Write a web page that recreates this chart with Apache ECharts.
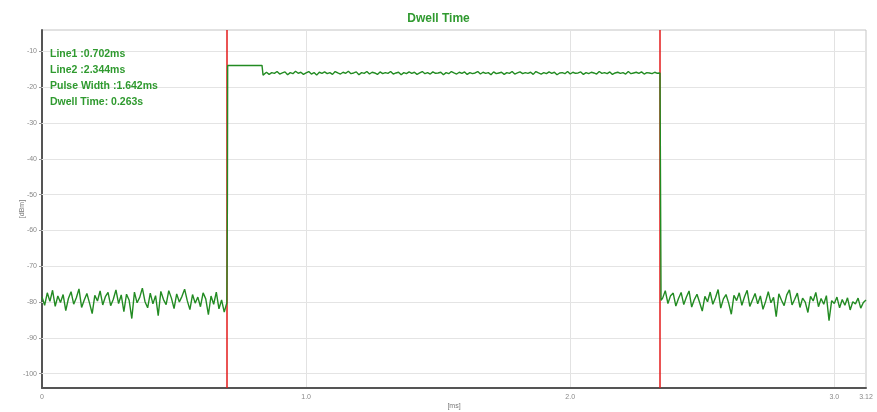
<!DOCTYPE html>
<html>
<head>
<meta charset="utf-8">
<script src="https://cdn.jsdelivr.net/npm/echarts@6/dist/echarts.min.js"></script>
<style>html,body{margin:0;padding:0;background:#fff}#c{width:877px;height:412px}</style>
</head>
<body>
<div id="c"></div>
<script>
// ---- data ----
const chartTitle = 'Dwell Time';
const infoLines = ['Line1 :0.702ms', 'Line2 :2.344ms', 'Pulse Width :1.642ms', 'Dwell Time: 0.263s'];
const markerTimes = [0.702, 2.344];
const yTicks = [-10, -20, -30, -40, -50, -60, -70, -80, -90, -100];
const xTicks = [0, 1, 2, 3, 3.12];
const xTickLabels = ['0', '1.0', '2.0', '3.0', '3.12'];
const sampleStep = 0.01;

// noise floor before pulse (t = 0 .. 0.70)
const seg1Start = 0;
const seg1 = [-78.6,-80.9,-77.4,-79.8,-76.7,-81.2,-78.3,-80.1,-77.9,-82.4,
-79.0,-77.1,-80.6,-78.8,-76.3,-81.5,-79.4,-77.6,-80.3,-83.2,
-78.1,-79.7,-76.9,-80.8,-78.5,-77.3,-81.0,-79.2,-76.6,-80.4,
-78.0,-82.7,-77.8,-79.5,-84.6,-77.2,-80.2,-78.7,-76.1,-79.9,
-81.6,-77.5,-80.5,-78.2,-83.8,-77.0,-79.3,-80.7,-76.8,-78.9,
-81.8,-77.7,-80.0,-78.4,-76.4,-79.6,-82.1,-77.9,-80.3,-78.6,
-81.3,-77.4,-79.1,-83.5,-78.3,-80.6,-77.2,-81.9,-79.4,-82.8,-80.2];

// rising edge and initial step
const riseTimes = [0.702, 0.702, 0.703, 0.833, 0.837];
const riseValues = [-80.5, -52.0, -13.9, -13.9, -16.6];

// pulse plateau (t = 0.84 .. 2.34)
const seg2Start = 0.84;
const seg2 = [-16.2,-15.8,-16.4,-15.9,-16.1,-15.6,-16.3,-16.0,-15.7,-16.5,
-15.9,-16.2,-15.5,-16.1,-15.8,-16.4,-16.0,-15.6,-16.3,-15.9,
-16.6,-15.8,-16.1,-15.7,-16.2,-15.9,-16.4,-15.6,-16.0,-16.3,
-15.8,-16.1,-15.5,-16.2,-16.0,-15.7,-16.5,-15.9,-16.1,-15.6,
-16.3,-15.8,-16.0,-16.4,-15.7,-16.2,-15.9,-16.1,-15.6,-16.3,
-16.0,-15.8,-16.5,-15.9,-16.2,-15.7,-16.1,-15.8,-16.4,-16.0,
-15.6,-16.2,-15.9,-16.3,-15.7,-16.1,-16.0,-15.8,-16.5,-15.9,
-16.2,-15.6,-16.0,-16.3,-15.8,-16.1,-15.7,-16.4,-15.9,-16.2,
-16.0,-15.6,-16.3,-15.8,-16.1,-15.9,-16.5,-15.7,-16.2,-16.0,
-15.8,-16.4,-15.9,-16.1,-15.6,-16.3,-16.0,-15.7,-16.2,-15.9,
-16.1,-15.8,-16.4,-15.6,-16.0,-16.3,-15.9,-16.2,-15.7,-16.1,
-15.8,-16.5,-16.0,-15.9,-16.2,-15.6,-16.3,-15.8,-16.1,-16.0,
-15.7,-16.4,-15.9,-16.2,-15.8,-16.0,-16.3,-15.6,-16.1,-15.9,
-16.2,-15.7,-16.4,-16.0,-15.8,-16.1,-15.9,-16.3,-15.6,-16.2,
-16.0,-15.8,-16.1,-15.7,-16.3,-15.9,-16.0,-16.2,-15.8,-16.1,-16.0];

// falling edge
const fallTimes = [2.344, 2.344];
const fallValues = [-16.0, -79.5];

// noise floor after pulse (t = 2.35 .. 3.12)
const seg3Start = 2.35;
const seg3 = [-78.9,-76.8,-80.4,-78.2,-77.5,-81.1,-79.0,-77.3,-80.7,-78.6,
-76.9,-81.4,-79.3,-77.8,-80.1,-82.5,-78.4,-79.9,-77.2,-80.6,
-78.8,-76.5,-81.7,-79.1,-77.9,-80.3,-83.4,-78.1,-79.6,-77.4,
-80.9,-78.5,-76.7,-81.2,-79.4,-77.6,-80.5,-78.3,-82.0,-79.8,
-77.1,-80.2,-78.7,-84.1,-77.7,-79.5,-81.0,-78.0,-76.6,-80.8,
-79.2,-77.5,-81.5,-78.9,-80.0,-82.9,-78.4,-79.7,-77.3,-81.3,
-79.0,-80.6,-78.2,-85.2,-79.6,-80.4,-78.6,-81.6,-79.3,-80.9,
-78.8,-82.2,-79.9,-80.5,-78.9,-81.7,-80.1,-79.4];

// ---- build ----
function sampled(start, vals) { return vals.map((v, i) => [+(start + i * sampleStep).toFixed(4), v]); }
function paired(ts, vs) { return ts.map((t, i) => [t, vs[i]]); }
const trace = [].concat(
  sampled(seg1Start, seg1),
  paired(riseTimes, riseValues),
  sampled(seg2Start, seg2),
  paired(fallTimes, fallValues),
  sampled(seg3Start, seg3)
);

const green = '#2f9a2f';
const chart = echarts.init(document.getElementById('c'));
chart.setOption({
  animation: false,
  backgroundColor: '#fff',
  title: {
    text: chartTitle, left: 'center', top: 8,
    textStyle: { color: green, fontSize: 12, fontWeight: 'bold', fontFamily: 'Liberation Sans, Arial, sans-serif' }
  },
  graphic: infoLines.map((t, i) => ({
    type: 'text', left: 50, top: 49 + i * 15.8, silent: true, z: 100,
    style: { text: t, fill: green, font: 'bold 10.5px "Liberation Sans", Arial, sans-serif' }
  })),
  grid: { left: 42, right: 11, top: 30, bottom: 24, show: true, borderColor: '#c4c4c4', borderWidth: 1, containLabel: false, outerBoundsMode: 'none' },
  xAxis: {
    type: 'value', min: 0, max: 3.12, interval: 1,
    name: '[ms]', nameLocation: 'middle', nameGap: 15, nameMoveOverlap: false,
    nameTextStyle: { color: '#777', fontSize: 7 },
    axisLine: { show: true, onZero: false, lineStyle: { color: '#555', width: 2 } },
    axisTick: { show: false },
    axisLabel: {
      color: '#888', fontSize: 7, margin: 6,
      customValues: xTicks,
      formatter: v => { const k = xTicks.findIndex(t => Math.abs(t - v) < 1e-6); return k >= 0 ? xTickLabels[k] : ''; }
    },
    splitLine: { show: true, lineStyle: { color: '#e2e2e2', width: 1 } }
  },
  yAxis: {
    type: 'value', min: -104, max: -4,
    name: '[dBm]', nameLocation: 'middle', nameGap: 16, nameRotate: 90, nameMoveOverlap: false,
    nameTextStyle: { color: '#777', fontSize: 7 },
    axisLine: { show: true, onZero: false, lineStyle: { color: '#555', width: 2 } },
    axisTick: { show: true, customValues: yTicks, length: 3, inside: false, lineStyle: { color: '#999' } },
    axisLabel: { color: '#888', fontSize: 7, margin: 5, customValues: yTicks, formatter: v => String(v) },
    splitLine: { show: false }
  },
  series: [
    {
      type: 'line', data: [], silent: true,
      markLine: {
        symbol: ['none', 'none'], silent: true, label: { show: false }, z: 1,
        lineStyle: { color: '#e4e4e4', width: 1, type: 'solid' },
        data: yTicks.map(v => ({ yAxis: v }))
      }
    },
    {
      type: 'line', data: trace, showSymbol: false, symbol: 'none', z: 5,
      lineStyle: { color: '#228b22', width: 1.4 },
      markLine: {
        symbol: ['none', 'none'], silent: true, label: { show: false },
        lineStyle: { color: '#e31a1a', width: 1.5, type: 'solid' },
        data: markerTimes.map(t => ({ xAxis: t }))
      }
    }
  ]
});
</script>
</body>
</html>
